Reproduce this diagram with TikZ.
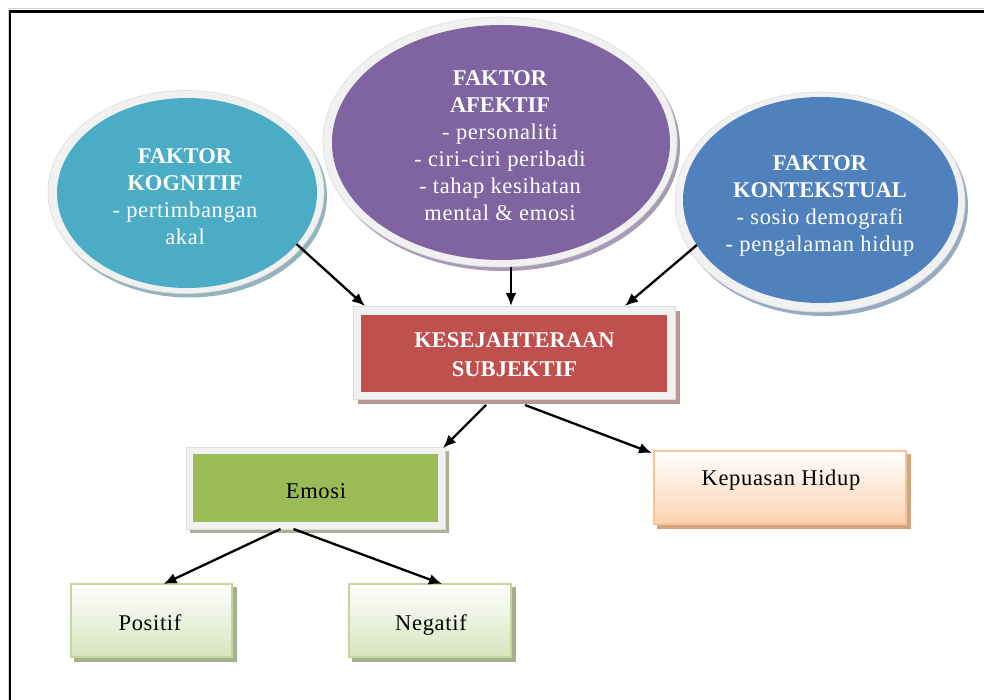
\documentclass[tikz,border=0pt]{standalone}
\usepackage{fontspec}
\setmainfont{Liberation Serif}
\newfontfamily\lblfont{Liberation Serif}[LetterSpace=3]
\usetikzlibrary{arrows.meta,shapes.geometric,calc}

\definecolor{ringgray}{HTML}{F1F1F1}
\definecolor{ringedge}{HTML}{DCDCDC}
\definecolor{cogfill}{HTML}{4BACC6}
\definecolor{cogshadow}{HTML}{93B3BD}
\definecolor{afefill}{HTML}{8064A2}
\definecolor{afeshadow}{HTML}{A79BB6}
\definecolor{konfill}{HTML}{4F81BD}
\definecolor{konshadow}{HTML}{98AAC2}
\definecolor{ksfill}{HTML}{C0504D}
\definecolor{ksshadow}{HTML}{BA9797}
\definecolor{emfill}{HTML}{9BBB59}
\definecolor{emshadow}{HTML}{A9B194}
\definecolor{kepborder}{HTML}{FAC391}
\definecolor{kepfill}{HTML}{FBD3B2}
\definecolor{kepshadow}{HTML}{D0A582}
\definecolor{grborder}{HTML}{C3D69B}
\definecolor{grfill}{HTML}{D7E4BD}
\definecolor{grshadow}{HTML}{A6AF8F}

\begin{document}
\begin{tikzpicture}[x=1pt,y=-1pt,
  font=\fontsize{22.5}{27}\selectfont,
  bubble/.style={ellipse, inner sep=0pt, outer sep=0pt},
  ringbg/.style={bubble, fill=ringgray, draw=ringedge, line width=0.6pt},
  bubbletext/.style={align=center, text=white, inner sep=0pt},
  plainbox/.style={rectangle, inner sep=0pt, outer sep=0pt},
  framebox/.style={plainbox, fill=ringgray, draw=ringedge, line width=0.5pt},
  softbox/.style={plainbox, line width=2pt, shading=axis, shading angle=0},
  lbl/.style={anchor=base, inner sep=0pt, font=\fontsize{22.5}{27}\selectfont\lblfont},
  arr/.style={line width=2.3pt, -{Latex[length=13pt,width=11pt]}}
]
\useasboundingbox (0,0) rectangle (984,700);

% outer frame (top and left edges)
\draw[gray!35, line width=1pt] (984,9) -- (8,9) -- (8,700);
\draw[line width=2.2pt] (984,11.5) -- (10,11.5) -- (10,700);

% --- cognitive factor bubble
\node[bubble, fill=cogshadow, minimum width=276, minimum height=203] (cogsh) at (189,196) {};
\node[ringbg, minimum width=276, minimum height=203] (cogring) at (186,192) {};
\node[bubble, fill=cogfill, minimum width=260, minimum height=190] (cog) at (187,193) {};
\node[bubbletext] (cogtxt) at (185,197)
  {\bfseries FAKTOR\\\bfseries KOGNITIF\\\lblfont - pertimbangan\\\lblfont akal};

% --- affective factor bubble
\node[bubble, fill=afeshadow, minimum width=354, minimum height=250] (afesh) at (503,146) {};
\node[ringbg, minimum width=354, minimum height=250] (afering) at (500,142) {};
\node[bubble, fill=afefill, minimum width=338, minimum height=235] (afe) at (501,142.5) {};
\node[bubbletext] (afetxt) at (500,146)
  {\bfseries FAKTOR\\\bfseries AFEKTIF\\\lblfont - personaliti\\\lblfont - ciri-ciri peribadi\\\lblfont - tahap kesihatan\\\lblfont mental \& emosi};

% --- contextual factor bubble
\node[bubble, fill=konshadow, minimum width=290, minimum height=220] (konsh) at (823,206) {};
\node[ringbg, minimum width=290, minimum height=220] (konring) at (820,202) {};
\node[bubble, fill=konfill, minimum width=275, minimum height=206] (kon) at (820.5,200) {};
\node[bubbletext] (kontxt) at (820,206)
  {\bfseries FAKTOR\\\bfseries KONTEKSTUAL\\\lblfont - sosio demografi\\\lblfont - pengalaman hidup};

% --- subjective well-being
\node[plainbox, fill=ksshadow, minimum width=322, minimum height=93] (kssh) at (518.5,357) {};
\node[framebox, minimum width=322, minimum height=93] (ksring) at (514,352.5) {};
\node[plainbox, fill=ksfill, minimum width=306, minimum height=77] (ks) at (514,353.5) {};
\node[align=center, text=white, inner sep=0pt, font=\fontsize{22.5}{29}\selectfont\bfseries]
  (kstxt) at (514.5,355) {KESEJAHTERAAN\\SUBJEKTIF};

% --- emotion
\node[plainbox, fill=emshadow, minimum width=259, minimum height=82] (emsh) at (319.5,492) {};
\node[framebox, minimum width=259, minimum height=82] (emring) at (315.5,488) {};
\node[plainbox, fill=emfill, minimum width=245, minimum height=68] (em) at (315.5,488) {};
\node[lbl] (emtxt) at (316,498) {Emosi};

% --- life satisfaction
\node[plainbox, fill=kepshadow, minimum width=254, minimum height=75] (kepsh) at (784,491.5) {};
\node[softbox, draw=kepborder, top color=white, bottom color=kepfill, minimum width=252, minimum height=73] (kep) at (780,487.5) {};
\node[lbl] (keptxt) at (781,485) {Kepuasan Hidup};

% --- positive / negative
\node[plainbox, fill=grshadow, minimum width=163, minimum height=75] (possh) at (155.5,624.5) {};
\node[softbox, draw=grborder, top color=white, bottom color=grfill, minimum width=161, minimum height=73] (pos) at (151.5,620.5) {};
\node[lbl] (postxt) at (150,630) {Positif};

\node[plainbox, fill=grshadow, minimum width=164, minimum height=75] (negsh) at (434,624.5) {};
\node[softbox, draw=grborder, top color=white, bottom color=grfill, minimum width=162, minimum height=73] (neg) at (430,620.5) {};
\node[lbl] (negtxt) at (431,630) {Negatif};

% --- connectors
\coordinate (afeend) at ($(ksring.north west)+(158,0)$);
\draw[arr] (cog.-25) -- ($(ksring.north west)+(12,0)$);
\draw[arr] (afering.south -| afeend) -- (afeend);
\draw[arr] (kon.200) -- ($(ksring.north east)+(-50,0)$);

\draw[arr] ($(ksring.south)+(-28,6)$) -- ($(emring.north east)+(-2,1)$);
\draw[arr] ($(ksring.south)+(11,6)$) -- ($(kep.north west)+(-2,2)$);

\draw[arr] ($(emring.south)+(-35,0)$) -- ($(pos.north)+(12,0)$);
\draw[arr] ($(emring.south)+(-22,0)$) -- ($(neg.north)+(12,0)$);
\end{tikzpicture}
\end{document}
